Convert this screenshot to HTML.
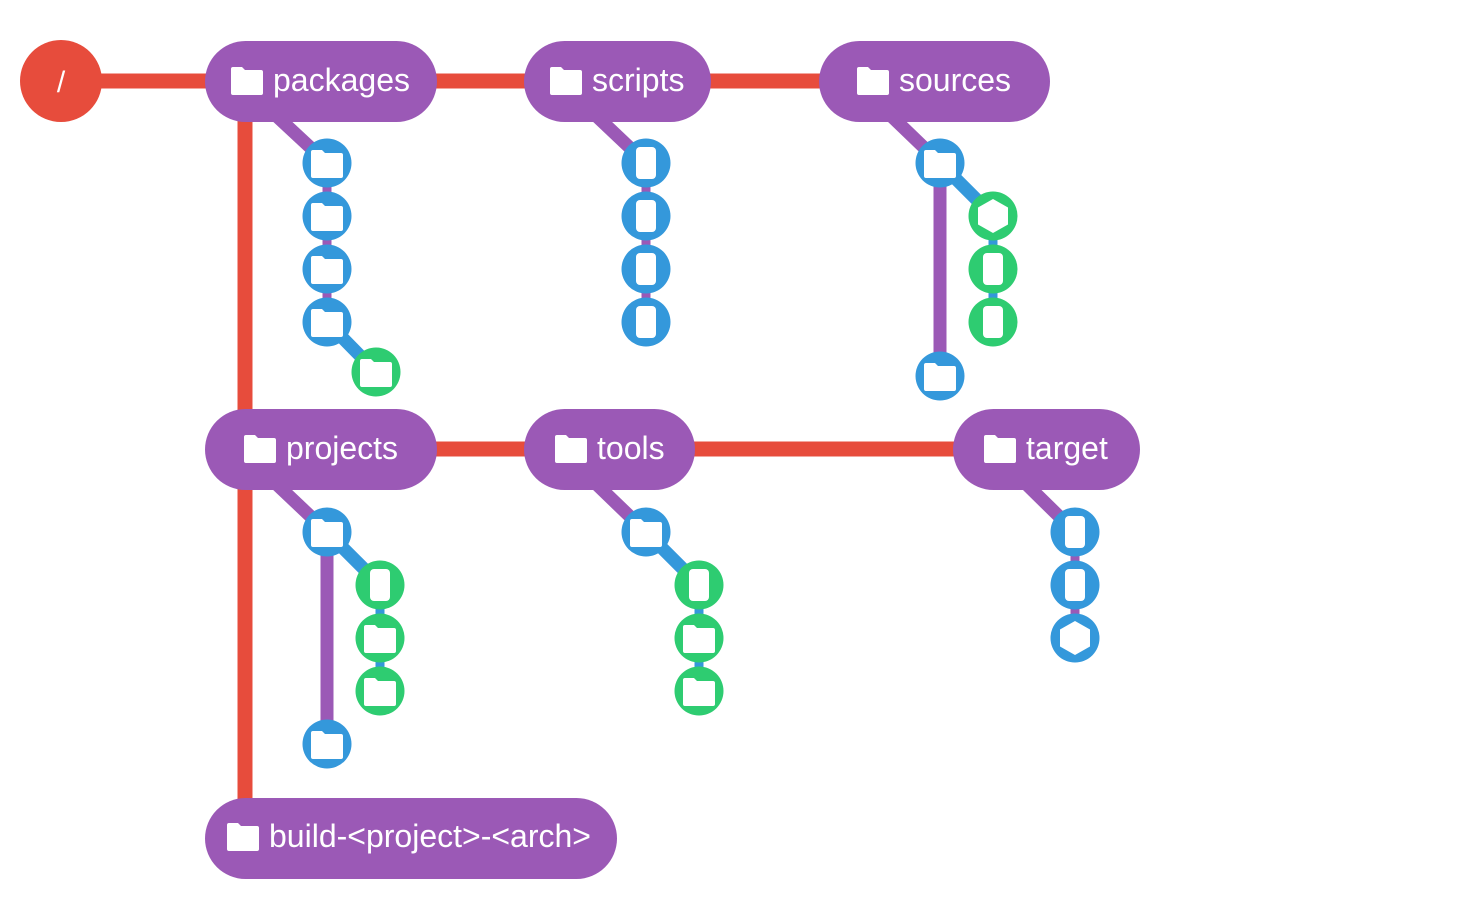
<!DOCTYPE html>
<html><head><meta charset="utf-8"><style>
html,body{margin:0;padding:0;background:#fff;width:1472px;height:900px;overflow:hidden}
text{font-family:"Liberation Sans",sans-serif;fill:#fff}
</style></head><body>
<svg width="1472" height="900" viewBox="0 0 1472 900" xmlns="http://www.w3.org/2000/svg">
<defs>
<path id="fold" d="M-16,-9 L-16,-12 Q-16,-14 -14,-14 L-5,-14 L-2,-11 L14,-11 Q16,-11 16,-9 L16,12 Q16,14 14,14 L-14,14 Q-16,14 -16,12 Z" fill="#fff"/>
<path id="bigfold" d="M-16,-10 L-16,-12 Q-16,-14 -14,-14 L-5,-14 L-2,-11 L14,-11 Q16,-11 16,-9 L16,12 Q16,14 14,14 L-14,14 Q-16,14 -16,12 Z" fill="#fff"/>
<rect id="file" x="-10" y="-16" width="20" height="32" rx="4" fill="#fff"/>
<polygon id="hex" points="0,-17 15,-8.5 15,8.5 0,17 -15,8.5 -15,-8.5" fill="#fff"/>
</defs>
<g stroke="#e74c3c" stroke-width="15" fill="none">
<line x1="61" y1="81" x2="940" y2="81"/>
<line x1="245" y1="81" x2="245" y2="820"/>
<line x1="245" y1="449" x2="1040" y2="449"/>
</g>
<circle cx="61" cy="81" r="41" fill="#e74c3c"/>
<text x="61" y="92" font-size="30" text-anchor="middle">/</text>

<g stroke="#9b59b6" stroke-width="13" fill="none">
<line x1="270" y1="110" x2="327" y2="163"/>
<line x1="590" y1="110" x2="646" y2="163"/>
<line x1="885" y1="110" x2="940" y2="163"/>
<line x1="270" y1="478" x2="327" y2="532"/>
<line x1="590" y1="478" x2="646" y2="532"/>
<line x1="1020" y1="478" x2="1075" y2="532"/>
<line x1="940" y1="163" x2="940" y2="376"/>
<line x1="327" y1="532" x2="327" y2="744"/>
</g>
<g stroke="#9b59b6" stroke-width="9">
<line x1="327" y1="163" x2="327" y2="322"/>
<line x1="646" y1="163" x2="646" y2="322"/>
<line x1="1075" y1="532" x2="1075" y2="638"/>
</g>
<g stroke="#3498db" stroke-width="13">
<line x1="327" y1="322" x2="376" y2="372"/>
<line x1="940" y1="163" x2="993" y2="216"/>
<line x1="327" y1="532" x2="380" y2="585"/>
<line x1="646" y1="532" x2="699" y2="585"/>
</g>
<g stroke="#3498db" stroke-width="9">
<line x1="993" y1="216" x2="993" y2="322"/>
<line x1="380" y1="585" x2="380" y2="691"/>
<line x1="699" y1="585" x2="699" y2="691"/>
</g>

<g fill="#9b59b6">
<rect x="205" y="41" width="232" height="81" rx="40.5"/>
<rect x="524" y="41" width="187" height="81" rx="40.5"/>
<rect x="819" y="41" width="231" height="81" rx="40.5"/>
<rect x="205" y="409" width="232" height="81" rx="40.5"/>
<rect x="524" y="409" width="171" height="81" rx="40.5"/>
<rect x="953" y="409" width="187" height="81" rx="40.5"/>
<rect x="205" y="798" width="412" height="81" rx="40.5"/>
</g>
<g font-size="32">
<use href="#bigfold" x="247" y="81"/><text x="273" y="91">packages</text>
<use href="#bigfold" x="566" y="81"/><text x="592" y="91">scripts</text>
<use href="#bigfold" x="873" y="81"/><text x="899" y="91">sources</text>
<use href="#bigfold" x="260" y="449"/><text x="286" y="459">projects</text>
<use href="#bigfold" x="571" y="449"/><text x="597" y="459">tools</text>
<use href="#bigfold" x="1000" y="449"/><text x="1026" y="459">target</text>
<use href="#bigfold" x="243" y="837"/><text x="269" y="847">build-&lt;project&gt;-&lt;arch&gt;</text>
</g>

<g>
<circle cx="327" cy="163" r="24.5" fill="#3498db"/><use href="#fold" x="327" y="164"/>
<circle cx="327" cy="216" r="24.5" fill="#3498db"/><use href="#fold" x="327" y="217"/>
<circle cx="327" cy="269" r="24.5" fill="#3498db"/><use href="#fold" x="327" y="270"/>
<circle cx="327" cy="322" r="24.5" fill="#3498db"/><use href="#fold" x="327" y="323"/>
<circle cx="376" cy="372" r="24.5" fill="#2ecc71"/><use href="#fold" x="376" y="373"/>

<circle cx="646" cy="163" r="24.5" fill="#3498db"/><use href="#file" x="646" y="163"/>
<circle cx="646" cy="216" r="24.5" fill="#3498db"/><use href="#file" x="646" y="216"/>
<circle cx="646" cy="269" r="24.5" fill="#3498db"/><use href="#file" x="646" y="269"/>
<circle cx="646" cy="322" r="24.5" fill="#3498db"/><use href="#file" x="646" y="322"/>

<circle cx="940" cy="163" r="24.5" fill="#3498db"/><use href="#fold" x="940" y="164"/>
<circle cx="993" cy="216" r="24.5" fill="#2ecc71"/><use href="#hex" x="993" y="216"/>
<circle cx="993" cy="269" r="24.5" fill="#2ecc71"/><use href="#file" x="993" y="269"/>
<circle cx="993" cy="322" r="24.5" fill="#2ecc71"/><use href="#file" x="993" y="322"/>
<circle cx="940" cy="376" r="24.5" fill="#3498db"/><use href="#fold" x="940" y="377"/>

<circle cx="327" cy="532" r="24.5" fill="#3498db"/><use href="#fold" x="327" y="533"/>
<circle cx="380" cy="585" r="24.5" fill="#2ecc71"/><use href="#file" x="380" y="585"/>
<circle cx="380" cy="638" r="24.5" fill="#2ecc71"/><use href="#fold" x="380" y="639"/>
<circle cx="380" cy="691" r="24.5" fill="#2ecc71"/><use href="#fold" x="380" y="692"/>
<circle cx="327" cy="744" r="24.5" fill="#3498db"/><use href="#fold" x="327" y="745"/>

<circle cx="646" cy="532" r="24.5" fill="#3498db"/><use href="#fold" x="646" y="533"/>
<circle cx="699" cy="585" r="24.5" fill="#2ecc71"/><use href="#file" x="699" y="585"/>
<circle cx="699" cy="638" r="24.5" fill="#2ecc71"/><use href="#fold" x="699" y="639"/>
<circle cx="699" cy="691" r="24.5" fill="#2ecc71"/><use href="#fold" x="699" y="692"/>

<circle cx="1075" cy="532" r="24.5" fill="#3498db"/><use href="#file" x="1075" y="532"/>
<circle cx="1075" cy="585" r="24.5" fill="#3498db"/><use href="#file" x="1075" y="585"/>
<circle cx="1075" cy="638" r="24.5" fill="#3498db"/><use href="#hex" x="1075" y="638"/>
</g>
</svg>
</body></html>
